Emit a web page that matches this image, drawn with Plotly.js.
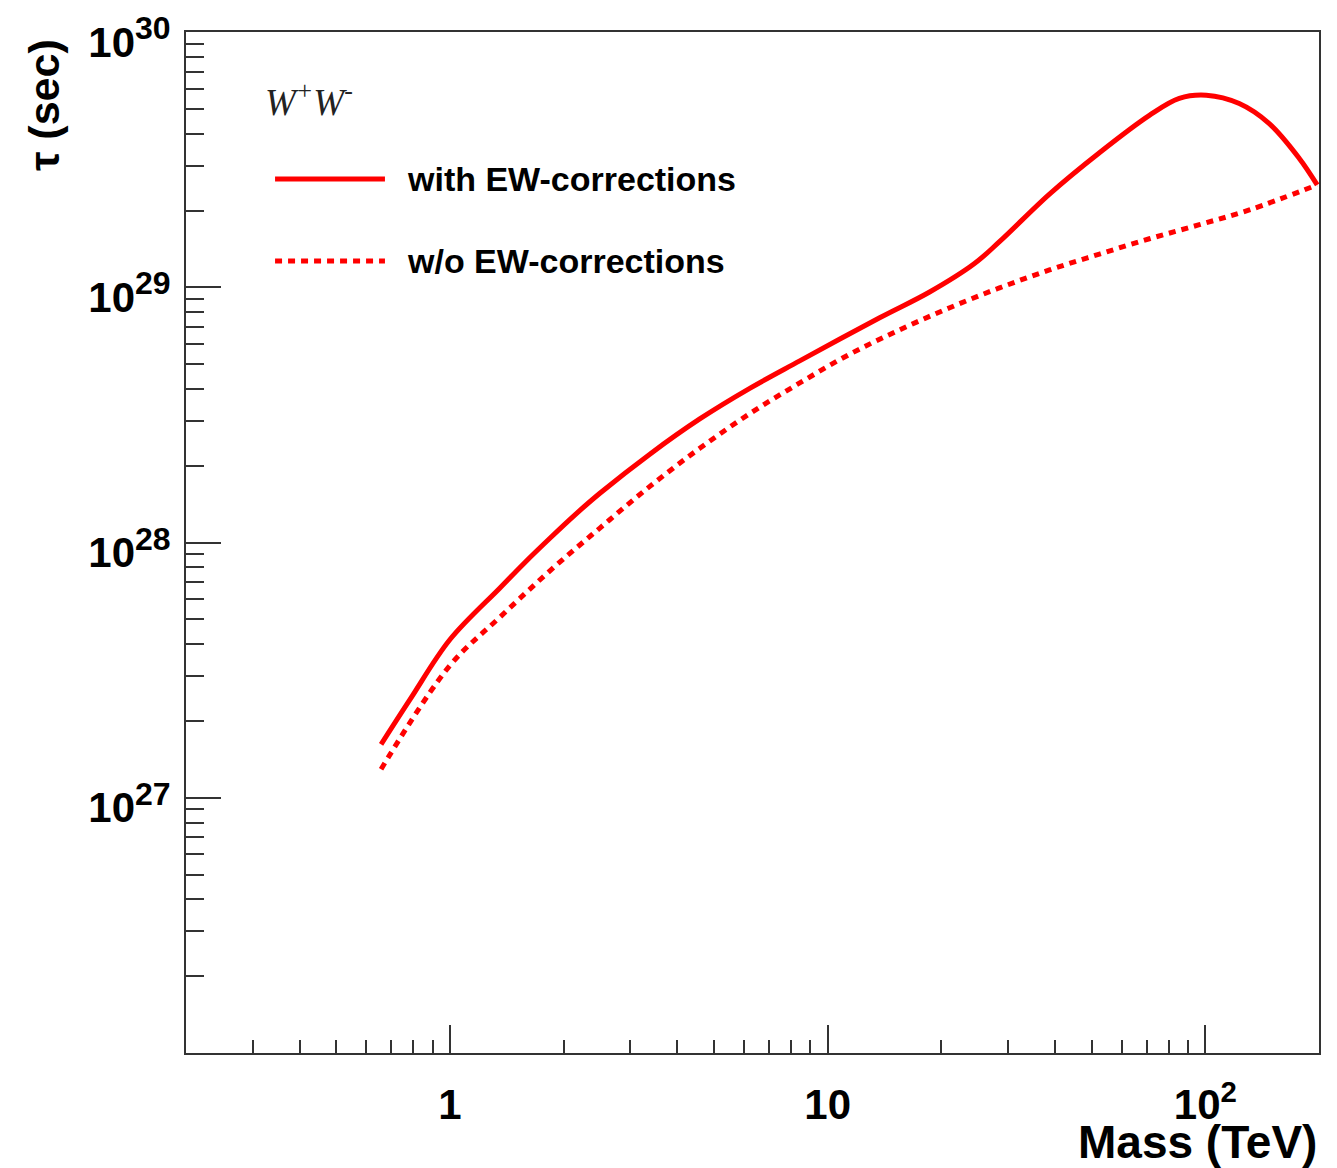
<!DOCTYPE html>
<html>
<head>
<meta charset="utf-8">
<script src="https://cdn.plot.ly/plotly-3.0.1.min.js"></script>
<style>html,body{margin:0;padding:0;background:#fff;}#chart{width:1337px;height:1168px;}</style>
</head>
<body>
<div id="chart"></div>
<script>
// Mass (TeV) and lifetime tau (sec)
const massWith = [0.657, 0.784, 1.0, 1.356, 1.579, 1.839, 2.15, 2.494, 3.382, 4.585, 6.219, 8.434, 13.73, 18.62, 24.48, 28.51, 38.67, 52.44, 71.11, 85.32, 100.6, 123.0, 147.7, 177.4, 197.8];
const tauWith  = [1.62e27, 2.43e27, 4.17e27, 6.64e27, 8.36e27, 1.04e28, 1.29e28, 1.56e28, 2.22e28, 3.05e28, 4.02e28, 5.15e28, 7.60e28, 9.59e28, 1.24e29, 1.51e29, 2.32e29, 3.37e29, 4.72e29, 5.50e29, 5.66e29, 5.25e29, 4.38e29, 3.20e29, 2.52e29];
const massWithout = [0.657, 1.0, 1.356, 1.839, 2.494, 3.382, 4.585, 6.219, 8.434, 11.44, 15.52, 21.05, 28.51, 38.67, 52.44, 71.11, 96.45, 130.8, 197.8];
const tauWithout  = [1.294e27, 3.30e27, 5.10e27, 7.75e27, 1.14e28, 1.66e28, 2.34e28, 3.20e28, 4.22e28, 5.47e28, 6.82e28, 8.32e28, 9.95e28, 1.17e29, 1.35e29, 1.55e29, 1.76e29, 2.01e29, 2.52e29];

const seriesNames = ["with EW-corrections", "w/o EW-corrections"];
const xTickVals = [1, 10, 100];
const xTickText = ["1", "10", "10<sup>2</sup>"];
const yTickVals = [1e27, 1e28, 1e29, 1e30];
const yExponents = ["27", "28", "29", "30"];
const processLabel = "W<sup>+</sup>W<sup>-</sup>";
const xTitle = "Mass (TeV)";
const yTitle = "τ (sec)";

function minorVals(d0, d1) {
  const v = [];
  for (let e = d0; e <= d1; e++) for (let k = 2; k <= 9; k++) v.push(k * Math.pow(10, e));
  return v;
}
const yTickText = yExponents.map(e => "10<sup><span style='font-size:32px'>" + e + "</span></sup>");

const red = "#ff0000";
const axisCol = "#333333";
const fontFam = "Liberation Sans, Arial, sans-serif";

const traces = [
  {x: massWith, y: tauWith, type: "scatter", mode: "lines", name: seriesNames[0],
   line: {color: red, width: 5, shape: "spline", smoothing: 1}},
  {x: massWithout, y: tauWithout, type: "scatter", mode: "lines", name: seriesNames[1],
   line: {color: red, width: 5, dash: "7px,6px", shape: "spline", smoothing: 1}}
];

const layout = {
  width: 1337, height: 1168,
  margin: {l: 186, r: 18, t: 32, b: 115},
  paper_bgcolor: "#ffffff", plot_bgcolor: "#ffffff",
  showlegend: false,
  font: {family: fontFam, color: "#000"},
  xaxis: {
    type: "log", range: [Math.log10(0.2), Math.log10(200)],
    showgrid: false, zeroline: false,
    showline: true, linecolor: axisCol, linewidth: 2, mirror: true,
    ticks: "inside", ticklen: 28, tickwidth: 2, tickcolor: axisCol,
    tickmode: "array", tickvals: xTickVals, ticktext: xTickText,
    tickfont: {family: fontFam, size: 42, weight: "bold", color: "#000"},
    ticklabelstandoff: 14,
    minor: {ticks: "inside", ticklen: 13, tickwidth: 2, tickcolor: axisCol, tickmode: "array", tickvals: minorVals(-1, 1), showgrid: false}
  },
  yaxis: {
    type: "log", range: [26, 30.0005],
    showgrid: false, zeroline: false,
    showline: true, linecolor: axisCol, linewidth: 2, mirror: true,
    ticks: "inside", ticklen: 35, tickwidth: 2, tickcolor: axisCol,
    tickmode: "array", tickvals: yTickVals, ticktext: yTickText,
    tickfont: {family: fontFam, size: 42, weight: "bold", color: "#000"},
    ticklabelstandoff: 5,
    ticklabelshift: 10,
    minor: {ticks: "inside", ticklen: 18, tickwidth: 2, tickcolor: axisCol, tickmode: "array", tickvals: minorVals(26, 29), showgrid: false}
  },
  shapes: [
    {type: "line", xref: "paper", yref: "paper", x0: 0.0786, x1: 0.1756, y0: 0.856, y1: 0.856,
     line: {color: red, width: 5}},
    {type: "line", xref: "paper", yref: "paper", x0: 0.0786, x1: 0.1756, y0: 0.7757, y1: 0.7757,
     line: {color: red, width: 5, dash: "7px,6px"}}
  ],
  annotations: [
    {text: seriesNames[0], xref: "paper", yref: "paper", x: 0.193, y: 0.856, xanchor: "left", yanchor: "middle",
     showarrow: false, font: {family: fontFam, size: 34, weight: "bold", color: "#000"}},
    {text: seriesNames[1], xref: "paper", yref: "paper", x: 0.193, y: 0.7757, xanchor: "left", yanchor: "middle",
     showarrow: false, font: {family: fontFam, size: 34, weight: "bold", color: "#000"}},
    {text: processLabel, xref: "paper", yref: "paper", x: 0.0680, y: 0.9334, xanchor: "left", yanchor: "middle",
     showarrow: false, font: {family: "Liberation Serif, Times New Roman, serif", size: 37, style: "italic", color: "#222"}},
    {text: xTitle, xref: "paper", yref: "paper", x: 1.0, y: -0.087, xanchor: "right", yanchor: "middle",
     showarrow: false, font: {family: fontFam, size: 46, weight: "bold", color: "#000"}},
    {text: yTitle, xref: "paper", yref: "paper", x: -0.1255, y: 0.9285, xanchor: "center", yanchor: "middle",
     textangle: -90, showarrow: false, font: {family: fontFam, size: 43, weight: "bold", color: "#000"}}
  ]
};

Plotly.newPlot("chart", traces, layout, {staticPlot: true, displayModeBar: false});
</script>
</body>
</html>
